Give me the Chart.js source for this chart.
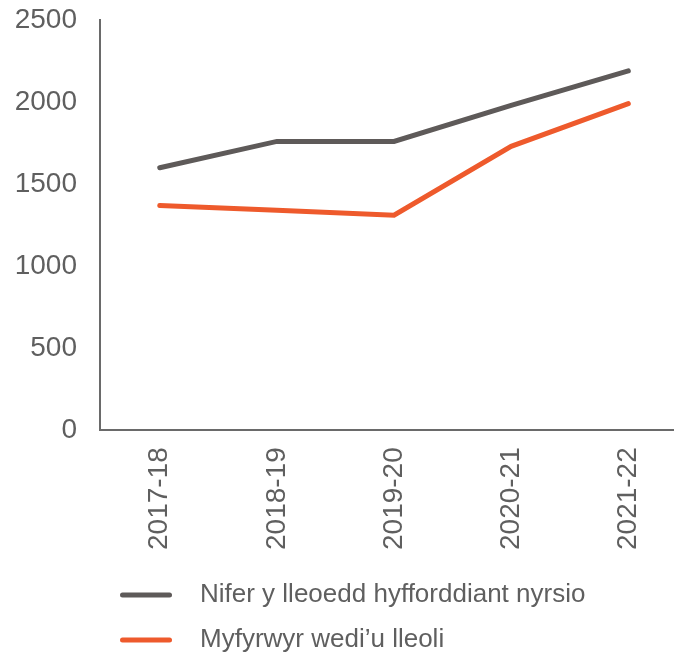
<!DOCTYPE html>
<html>
<head>
<meta charset="utf-8">
<script src="https://cdn.jsdelivr.net/npm/chart.js@4"></script>
<style>
    html, body { margin: 0; padding: 0; background: #fff; }
    canvas { display: block; }
</style>
</head>
<body>
<canvas id="placesChart" width="674" height="654"></canvas>
<script>
// Blynyddoedd academaidd
const years = ["2017-18", "2018-19", "2019-20", "2020-21", "2021-22"];

// Lleoedd hyfforddi a myfyrwyr wedi'u lleoli
const trainingPlaces = [1600, 1760, 1760, 1980, 2190];
const placedStudents = [1370, 1340, 1310, 1730, 1990];

const yTicks = [0, 500, 1000, 1500, 2000, 2500];

const greyLine = "#5e5a59";
const orangeLine = "#ee5a2c";
const textGrey = "#5f5f5f";
const axisGrey = "#6a6a6a";

const fontFamily = "'Liberation Sans', Arial, sans-serif";

// years sit on a numeric axis so the plot can run on past the last year
const xMin = -0.51;
const xMax = 4.39;

function toPoints(values) {
    return values.map((v, i) => ({ x: i, y: v }));
}

// small line swatch for the legend, with room after it before the text
function makeLegendLine(color) {
    const swatch = document.createElement("canvas");
    swatch.width = 68;
    swatch.height = 6;
    const c = swatch.getContext("2d");
    c.strokeStyle = color;
    c.lineWidth = 5;
    c.lineCap = "round";
    c.beginPath();
    c.moveTo(3.5, 3);
    c.lineTo(50.5, 3);
    c.stroke();
    return swatch;
}

function makeLegendLabels(chart) {
    const labels = Chart.defaults.plugins.legend.labels.generateLabels(chart);
    return labels.map(label => ({
        ...label,
        pointStyle: makeLegendLine(label.strokeStyle),
        rotation: 0
    }));
}

const ctx = document.getElementById("placesChart").getContext("2d");
new Chart(ctx, {
    type: "line",
    data: {
        datasets: [
            {
                label: "Nifer y lleoedd hyfforddiant nyrsio",
                data: toPoints(trainingPlaces),
                borderColor: greyLine,
                backgroundColor: greyLine,
                borderWidth: 5,
                pointRadius: 0,
                borderCapStyle: "round",
                tension: 0
            },
            {
                label: "Myfyrwyr wedi\u2019u lleoli",
                data: toPoints(placedStudents),
                borderColor: orangeLine,
                backgroundColor: orangeLine,
                borderWidth: 5,
                pointRadius: 0,
                borderCapStyle: "round",
                tension: 0
            }
        ]
    },
    options: {
        responsive: false,
        animation: false,
        layout: {
            autoPadding: false,
            padding: { top: 0, right: 0, left: 0, bottom: -9 }
        },
        scales: {
            x: {
                type: "linear",
                min: xMin,
                max: xMax,
                afterBuildTicks: axis => {
                    axis.ticks = years.map((_, i) => ({ value: i }));
                },
                grid: { display: false, drawTicks: false },
                border: { display: true, color: axisGrey, width: 2 },
                ticks: {
                    minRotation: 90,
                    maxRotation: 90,
                    padding: 17,
                    color: textGrey,
                    font: { family: fontFamily, size: 28 },
                    callback: value => years[value]
                },
                afterFit: axis => {
                    axis.paddingLeft = 0;
                    axis.paddingRight = 0;
                    axis.height -= 4;
                }
            },
            y: {
                min: 0,
                max: 2500,
                afterBuildTicks: axis => {
                    axis.ticks = yTicks.map(v => ({ value: v }));
                },
                grid: { display: false, drawTicks: false },
                border: { display: true, color: axisGrey, width: 2 },
                ticks: {
                    padding: 23,
                    color: textGrey,
                    font: { family: fontFamily, size: 28 },
                    callback: value => String(value)
                },
                afterFit: axis => {
                    axis.width = 100;
                    axis.paddingTop = 20;
                    axis.paddingBottom = 0;
                }
            }
        },
        plugins: {
            legend: {
                position: "bottom",
                align: "start",
                fullSize: false,
                labels: {
                    usePointStyle: true,
                    pointStyleWidth: 68,
                    boxHeight: 6,
                    padding: 19,
                    color: textGrey,
                    font: { family: fontFamily, size: 26 },
                    generateLabels: makeLegendLabels
                }
            },
            tooltip: { enabled: false }
        }
    }
});
</script>
</body>
</html>
